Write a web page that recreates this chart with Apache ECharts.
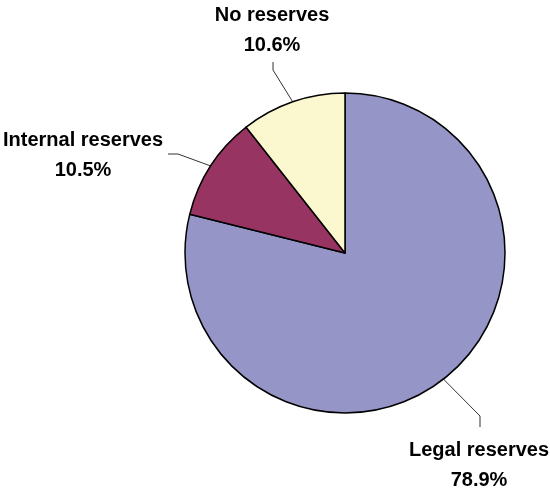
<!DOCTYPE html>
<html>
<head>
<meta charset="utf-8">
<script src="https://cdn.jsdelivr.net/npm/echarts@6/dist/echarts.min.js"></script>
<style>
html,body{margin:0;padding:0;background:#fff;}
#chart{width:550px;height:489px;}
</style>
</head>
<body>
<div id="chart"></div>
<script>
var categories = ['Legal reserves', 'Internal reserves', 'No reserves'];
var shares = [78.9, 10.5, 10.6];
var colors = ['#9595C8', '#983462', '#FBF8CF'];

// label anchor placement (centre of text block) and leader elbows
var labelPos = [
  {x: 479, y: 465, elbow: [480, 416], end: [480, 427]},
  {x: 83, y: 155, elbow: [178, 154], end: [168, 154]},
  {x: 272, y: 30, elbow: [273, 70], end: [273, 62]}
];

var chart = echarts.init(document.getElementById('chart'));
var data = categories.map(function (c, i) {
  return {name: c, value: shares[i], itemStyle: {color: colors[i]}};
});
chart.setOption({
  animation: false,
  backgroundColor: '#ffffff',
  series: [{
    type: 'pie',
    center: [345, 253],
    radius: 160,
    startAngle: 90,
    clockwise: true,
    data: data,
    itemStyle: {borderColor: '#000', borderWidth: 1.5},
    label: {
      show: true,
      position: 'outside',
      formatter: function (p) { return p.name + '\n' + p.value.toFixed(1) + '%'; },
      fontFamily: 'Liberation Sans',
      fontWeight: 'bold',
      fontSize: 20,
      lineHeight: 30,
      color: '#000',
      align: 'center',
      overflow: 'none',
      width: 300
    },
    labelLine: {show: true, lineStyle: {color: '#333', width: 1}},
    emphasis: {disabled: true},
    labelLayout: function (params) {
      var lp = labelPos[params.dataIndex];
      var start = params.labelLinePoints ? params.labelLinePoints[0] : lp.elbow;
      return {
        x: lp.x,
        y: lp.y,
        align: 'center',
        verticalAlign: 'middle',
        labelLinePoints: [start, lp.elbow, lp.end]
      };
    }
  }]
});
</script>
</body>
</html>
